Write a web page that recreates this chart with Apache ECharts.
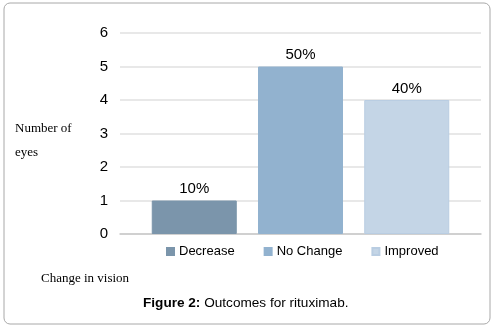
<!DOCTYPE html>
<html>
<head>
<meta charset="utf-8">
<script src="https://cdn.jsdelivr.net/npm/echarts@6/dist/echarts.min.js"></script>
<style>
  html, body { margin: 0; padding: 0; background: #fff; }
  #chart { width: 497px; height: 329px; }
</style>
</head>
<body>
<div id="chart"></div>
<script>
// outcomes, one group of three bars
const seriesNames = ['Decrease', 'No Change', 'Improved'];
const eyeCounts = [1, 5, 4];
const pctLabels = ['10%', '50%', '40%'];
const barColors = ['#7b95ab', '#92b2cf', '#c4d5e6'];
const yTicks = { min: 0, max: 6, interval: 1 };

const chart = echarts.init(document.getElementById('chart'));

const series = seriesNames.map((name, i) => ({
  name: name,
  type: 'bar',
  data: [eyeCounts[i]],
  barWidth: 85,
  barGap: '25%',
  itemStyle: {
    color: barColors[i],
    borderColor: i === 2 ? '#b9cde2' : barColors[i],
    borderWidth: 1
  },
  label: {
    show: true,
    position: 'top',
    distance: 4,
    formatter: () => pctLabels[i],
    color: '#000',
    fontFamily: 'Arial, Liberation Sans',
    fontSize: 15
  }
}));

chart.setOption({
  animation: false,
  grid: { left: 120, right: 16, top: 33, bottom: 95 },
  legend: {
    data: seriesNames,
    top: 245,
    left: 166,
    padding: 0,
    icon: 'rect',
    itemWidth: 7,
    itemHeight: 7,
    itemGap: 29,
    textStyle: { color: '#000', fontFamily: 'Arial, Liberation Sans', fontSize: 13 }
  },
  xAxis: {
    type: 'category',
    data: [''],
    axisLine: { lineStyle: { color: '#c8c8c8', width: 1.5 } },
    axisTick: { show: false },
    axisLabel: { show: false }
  },
  yAxis: {
    type: 'value',
    min: yTicks.min,
    max: yTicks.max,
    interval: yTicks.interval,
    axisLine: { show: false },
    axisTick: { show: false },
    axisLabel: { color: '#000', fontFamily: 'Arial, Liberation Sans', fontSize: 15, margin: 12 },
    splitLine: { lineStyle: { color: '#e0e0e0', width: 1.5 } }
  },
  series: series,
  graphic: [
    {
      type: 'rect',
      shape: { x: 4, y: 3, width: 486, height: 321, r: 6 },
      style: { fill: 'none', stroke: '#a8a8a8', lineWidth: 1 }
    },
    {
      type: 'text', left: 15, top: 122,
      style: { text: 'Number of', font: '13px "Liberation Serif", "Times New Roman", serif', fill: '#000' }
    },
    {
      type: 'text', left: 15, top: 146,
      style: { text: 'eyes', font: '13px "Liberation Serif", "Times New Roman", serif', fill: '#000' }
    },
    {
      type: 'text', left: 41, top: 272,
      style: { text: 'Change in vision', font: '13px "Liberation Serif", "Times New Roman", serif', fill: '#000' }
    },
    {
      type: 'text', left: 143, top: 296,
      style: {
        text: '{b|Figure 2:} Outcomes for rituximab.',
        font: '13.6px Arial, "Liberation Sans", sans-serif',
        fill: '#000',
        rich: {
          b: { fontWeight: 'bold', fontFamily: 'Arial, Liberation Sans', fontSize: 13.6, fill: '#000' }
        }
      }
    }
  ]
});
</script>
</body>
</html>
